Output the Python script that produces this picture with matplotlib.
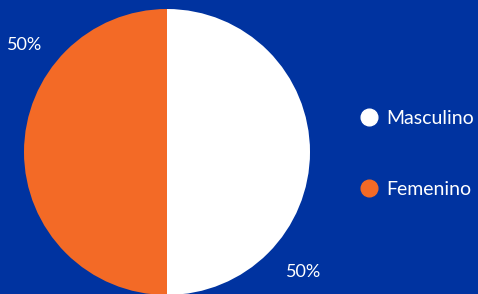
import matplotlib.pyplot as plt
from matplotlib.lines import Line2D

categories = ["Masculino", "Femenino"]
values = [50, 50]
pct_labels = ["50%", "50%"]

BG = "#0033a0"
COLORS = ["#ffffff", "#f36a26"]

plt.rcParams['font.family'] = ['Lato', 'DejaVu Sans']

fig = plt.figure(figsize=(4.78, 2.94), dpi=100, facecolor=BG)
ax = fig.add_axes([24 / 478, -1 / 294, 286 / 478, 286 / 294])
ax.set_facecolor(BG)

wedges, _ = ax.pie(values, colors=COLORS, startangle=90, counterclock=False,
                   radius=1.0, wedgeprops=dict(linewidth=0))
ax.set_xlim(-1, 1)
ax.set_ylim(-1, 1)
ax.set_aspect("equal")
ax.axis("off")

# percentage labels placed outside the slices
label_pos = [(0.955, -0.84), (-0.995, 0.75)]
for txt, (x, y) in zip(pct_labels, label_pos):
    ax.text(x, y, txt, color="white", fontsize=13, ha="center", va="center",
            clip_on=False)

handles = [Line2D([], [], marker="o", linestyle="none", markersize=12,
                  markerfacecolor=c, markeredgecolor=c) for c in COLORS]
leg = fig.legend(handles, categories, loc="center left",
                 bbox_to_anchor=(340 / 478, 1 - 154 / 294), frameon=False,
                 labelspacing=2.8, handletextpad=0.3, fontsize=14,
                 labelcolor="white", handlelength=1.2)

fig.savefig("out.png", dpi=100, facecolor=BG)
